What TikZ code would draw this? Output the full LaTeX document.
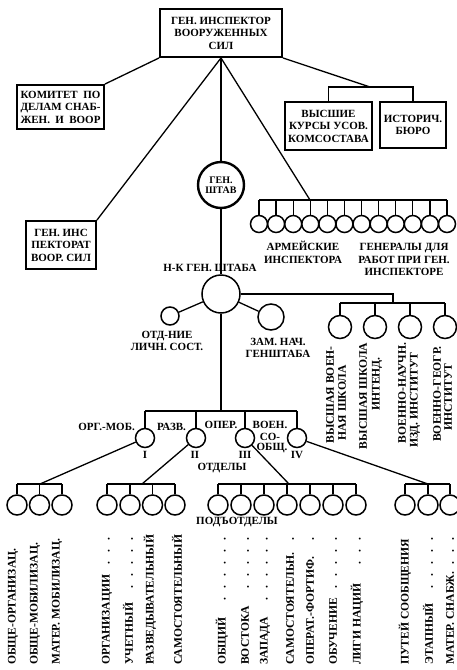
\documentclass[tikz,border=0pt]{standalone}
\usepackage{fontspec}
\newfontfamily\rfam{Liberation Serif}
\newcommand\labfont{\rfam\bfseries\fontsize{11}{12.5}\selectfont}
\newcommand\vfnt{\rfam\bfseries\fontsize{11.6}{12.5}\selectfont}
\newcommand\smallfnt{\rfam\bfseries\fontsize{10}{9.5}\selectfont}
\newcommand\dotl{\leaders\hbox to 12pt{\hss.\hss}\hfill}
\begin{document}
\begin{tikzpicture}[x=1pt,y=-1pt,
  lbl/.style={font=\labfont, inner sep=0pt},
  box/.style={draw, line width=1.9pt, inner sep=0pt, align=center, font=\labfont},
  circ/.style={draw, circle, line width=1.5pt, inner sep=0pt},
  ln/.style={line width=1.3pt},
  vt/.style={lbl, font=\vfnt, rotate=90},
  bt/.style={lbl, font=\vfnt, rotate=90, anchor=west}]
\useasboundingbox[fill=white] (0,0) rectangle (457,670);

% ---- top boxes
\node[box, minimum width=122pt, minimum height=48pt] (top) at (221,33) {ГЕН. ИНСПЕКТОР\\ВООРУЖЕННЫХ\\СИЛ};
\node[box, minimum width=87pt, minimum height=44pt] (kom) at (60.5,107)
  {\makebox[80pt][s]{КОМИТЕТ ПО}\\\makebox[80pt][s]{ДЕЛАМ СНАБ-}\\\makebox[80pt][s]{ЖЕН. И ВООР}};
\node[box, minimum width=87pt, minimum height=48pt] (vys) at (328.5,126) {ВЫСШИЕ\\КУРСЫ УСОВ.\\КОМСОСТАВА};
\node[box, minimum width=66pt, minimum height=46pt] (ist) at (413,125) {ИСТОРИЧ.\\БЮРО};
\node[box, minimum width=70pt, minimum height=48pt] (gi) at (61,245) {ГЕН. ИНС\\ПЕКТОРАТ\\ВООР. СИЛ};

\coordinate (rb) at (370,87);
\draw[ln] (top.south west) -- (kom.north east);
\draw[ln] (top.south east) -- (rb);
\draw[ln] (vys.north) -- (vys.north |- rb) -- (ist.north |- rb) -- (ist.north);

% ---- general staff
\node[circ, line width=2.4pt, minimum size=46pt, align=center, font=\smallfnt] (shtab) at (221,185) {ГЕН.\\ШТАВ};
\draw[ln] (top.south) -- (shtab);
\draw[ln] (top.south) -- (gi.north east);

% ---- army inspectors
\coordinate (ai) at (310,200);
\draw[ln] (top.south) -- (ai);
\foreach \i in {1,...,12} {
  \node[circ, minimum size=17pt] (a\i) at ({259+17.09*(\i-1)},224) {};
  \draw[ln] (a\i.north) -- (a\i.north |- ai);
}
\draw[ln] (a1.north |- ai) -- (a12.north |- ai);
\node[lbl, align=center] (arm) at (303,252.5) {АРМЕЙСКИЕ\\ИНСПЕКТОРА};
\node[lbl, align=center] (gen) at (404,259.5) {ГЕНЕРАЛЫ ДЛЯ\\РАБОТ ПРИ ГЕН.\\ИНСПЕКТОРЕ};

% ---- chief of staff
\node[lbl] (nkl) at (210,268) {Н-К ГЕН. ШТАБА};
\node[circ, minimum size=38pt] (nk) at (221,294) {};
\draw[ln] (shtab) -- (nk);
\node[circ, minimum size=18pt] (otd) at (170,316) {};
\node[circ, minimum size=26pt] (zam) at (271,317) {};
\draw[ln] (nk) -- (otd);
\draw[ln] (nk) -- (zam);
\node[lbl, align=center] (otdl) at (167,341) {ОТД-НИЕ\\ЛИЧН. СОСТ.};
\node[lbl, align=center] (zaml) at (278,348) {ЗАМ. НАЧ.\\ГЕНШТАБА};

% ---- schools
\coordinate (sb) at (393,303);
\draw[ln] (nk.east) -| (sb);
\foreach \i/\x in {1/340,2/375,3/410,4/445} {
  \node[circ, minimum size=23pt] (s\i) at (\x,327) {};
  \draw[ln] (s\i.north) -- (s\i.north |- sb);
}
\draw[ln] (s1.north |- sb) -- (s4.north |- sb);
\node[vt] (s1a) at (330,395) {ВЫСШАЯ ВОЕН-};
\node[vt] (s1b) at (342,403) {НАЯ ШКОЛА};
\node[vt] (s2a) at (363,396) {ВЫСШАЯ ШКОЛА};
\node[vt] (s2b) at (377,384) {ИНТЕНД.};
\node[vt] (s3a) at (402,393) {ВОЕННО-НАУЧН.};
\node[vt] (s3b) at (415,400) {ИЗД. ИНСТИТУТ};
\node[vt] (s4a) at (437,394) {ВОЕННО-ГЕОГР.};
\node[vt] (s4b) at (448,397) {ИНСТИТУТ};

% ---- departments
\coordinate (db) at (221,411);
\draw[ln] (nk.south) -- (db);
\foreach \i/\x in {1/145,2/196,3/245,4/297} {
  \node[circ, minimum size=19pt] (d\i) at (\x,438) {};
  \draw[ln] (d\i.north) -- (d\i.north |- db);
}
\draw[ln] (d1.north |- db) -- (d4.north |- db);
\node[lbl, anchor=east] (l1) at (135,427) {ОРГ.-МОБ.};
\node[lbl] (l2) at (171.5,427) {РАЗВ.};
\node[lbl] (l3) at (221,425) {ОПЕР.};
\node[lbl] (l4) at (270,425) {ВОЕН.};
\node[lbl] (l5) at (270,437) {СО-};
\node[lbl] (l6) at (272,448) {ОБЩ.};
\node[lbl] (r1) at (145,454.5) {I};
\node[lbl] (r2) at (195,454.5) {II};
\node[lbl] (r3) at (245,454.5) {III};
\node[lbl] (r4) at (297,454.5) {IV};
\node[lbl] (otdely) at (222,468) {ОТДЕЛЫ};

% ---- sub-departments
\coordinate (j1) at (40,484);
\coordinate (j2) at (142,484);
\coordinate (j3) at (289,484);
\coordinate (j4) at (428,484);
\draw[ln] (d1) -- (j1);
\draw[ln] (d2) -- (j2);
\draw[ln] (d3) -- (j3);
\draw[ln] (d4) -- (j4);
\foreach \g/\xs/\n in {1/{17,39.5,62}/3, 2/{107,130,152.5,175}/4, 3/{218,241,264,287,310,333,356}/7, 4/{405,428,450}/3} {
  \foreach \x [count=\k] in \xs {
    \node[circ, minimum size=20pt] (g\g\k) at (\x,505) {};
    \draw[ln] (g\g\k.north) -- (g\g\k.north |- j1);
  }
  \draw[ln] (g\g1.north |- j1) -- (g\g\n.north |- j1);
}
\node[lbl] (pod) at (237,522) {ПОДЪОТДЕЛЫ};

\node[bt] (t11) at (13,665) {ОБЩЕ-ОРГАНИЗАЦ.};
\node[bt] (t12) at (35,665) {ОБЩЕ-МОБИЛИЗАЦ.};
\node[bt] (t13) at (57,665) {МАТЕР. МОБИЛИЗАЦ.};
\node[bt] (t21) at (107,665) {\makebox[137pt][l]{ОРГАНИЗАЦИИ \dotl}};
\node[bt] (t22) at (128,665) {\makebox[137pt][l]{УЧЕТНЫЙ \dotl}};
\node[bt] (t23) at (150,665) {РАЗВЕДЫВАТЕЛЬНЫЙ};
\node[bt] (t24) at (177,665) {\makebox[135pt][l]{САМОСТОЯТЕЛЬНЫЙ \dotl}};
\node[bt] (t31) at (222,665) {\makebox[137pt][l]{ОБЩИЙ \dotl}};
\node[bt] (t32) at (245,665) {\makebox[133pt][l]{ВОСТОКА \dotl}};
\node[bt] (t33) at (265,665) {\makebox[135pt][l]{ЗАПАДА \dotl}};
\node[bt] (t34) at (290,665) {\makebox[135pt][l]{САМОСТОЯТЕЛЬН. \dotl}};
\node[bt] (t35) at (310,665) {\makebox[137pt][l]{ОПЕРАТ.-ФОРТИФ. \dotl}};
\node[bt] (t36) at (333,665) {\makebox[137pt][l]{ОБУЧЕНИЕ \dotl}};
\node[bt] (t37) at (357,665) {\makebox[137pt][l]{ЛИГИ НАЦИЙ \dotl}};
\node[bt] (t41) at (405,665) {\makebox[137pt][l]{ПУТЕЙ СООБЩЕНИЯ \dotl}};
\node[bt] (t42) at (428,665) {\makebox[137pt][l]{ЭТАПНЫЙ \dotl}};
\node[bt] (t43) at (450,665) {\makebox[137pt][l]{МАТЕР. СНАБЖ. \dotl}};
\end{tikzpicture}
\end{document}
